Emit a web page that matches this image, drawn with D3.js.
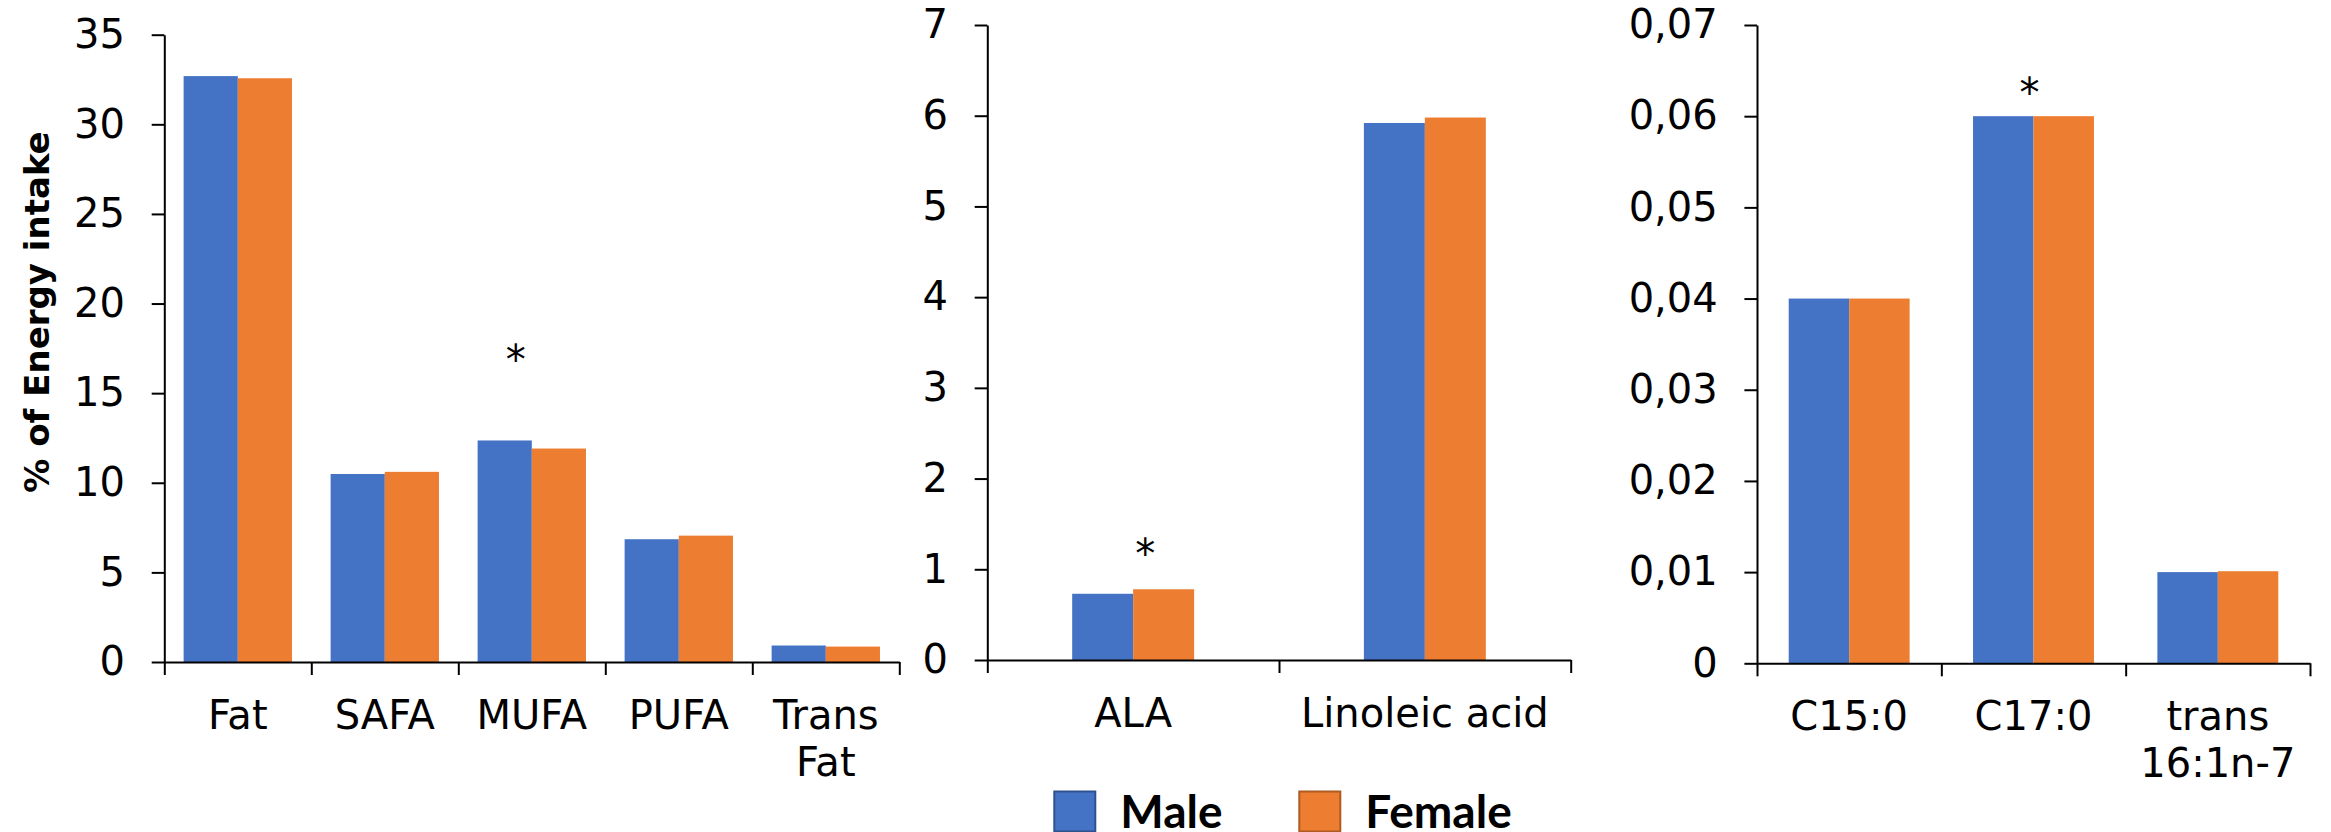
<!DOCTYPE html>
<html><head><meta charset="utf-8">
<script src="https://cdn.jsdelivr.net/npm/d3@7"></script>
<style>body{margin:0;background:#fff}svg{display:block}</style>
</head><body><svg id="c" width="2331" height="832"></svg>
<script>
// ---------- data ----------
const seriesNames = ["Male", "Female"];

const fatCategories = ["Fat", "SAFA", "MUFA", "PUFA", "Trans\nFat"];
const fatMale = [32.69, 10.49, 12.36, 6.85, 0.92];
const fatFemale = [32.57, 10.61, 11.91, 7.05, 0.86];
const fatTicks = [0, 5, 10, 15, 20, 25, 30, 35];
const fatTickLabels = ["0", "5", "10", "15", "20", "25", "30", "35"];

const pufaCategories = ["ALA", "Linoleic acid"];
const pufaMale = [0.73, 5.92];
const pufaFemale = [0.78, 5.98];
const pufaTicks = [0, 1, 2, 3, 4, 5, 6, 7];
const pufaTickLabels = ["0", "1", "2", "3", "4", "5", "6", "7"];

const minorCategories = ["C15:0", "C17:0", "trans\n16:1n-7"];
const minorMale = [0.040, 0.060, 0.0100];
const minorFemale = [0.040, 0.060, 0.0101];
const minorTicks = [0, 0.01, 0.02, 0.03, 0.04, 0.05, 0.06, 0.07];
const minorTickLabels = ["0", "0,01", "0,02", "0,03", "0,04", "0,05", "0,06", "0,07"];

const significanceCategories = ["MUFA", "ALA", "C17:0"];
const significanceLevels = [17.4, 1.28, 0.0636];

const yTitle = "% of Energy intake";

// ---------- layout ----------
const colors = ["#4472C4", "#ED7D31"];
const strokes = ["#2F528F", "#AE5A21"];
const FONT = "'DejaVu Sans', Verdana, sans-serif";
const FS = 40;

const panels = [
  {cats: fatCategories, male: fatMale, female: fatFemale, ticks: fatTicks, labels: fatTickLabels,
   x0: 164.3, x1: 899.3, yb: 662, yt: 34.7, frac: 0.737, max: 35, starDx: -16},
  {cats: pufaCategories, male: pufaMale, female: pufaFemale, ticks: pufaTicks, labels: pufaTickLabels,
   x0: 987.3, x1: 1570.7, yb: 660, yt: 25, frac: 0.418, max: 7, starDx: 12},
  {cats: minorCategories, male: minorMale, female: minorFemale, ticks: minorTicks, labels: minorTickLabels,
   x0: 1757, x1: 2310, yb: 663.3, yt: 25, frac: 0.656, max: 0.07, starDx: -4}
];

const svg = d3.select("#c");

panels.forEach((p, pi) => {
  const g = svg.append("g");
  const x = d3.scaleBand().domain(p.cats).range([p.x0, p.x1]).padding(0);
  const y = d3.scaleLinear().domain([0, p.max]).range([p.yb, p.yt]);
  const bw = x.bandwidth();
  const gw = bw * p.frac;
  const sub = d3.scaleBand().domain(seriesNames).range([0, gw]).padding(0);

  // bars
  const rows = p.cats.map((c, i) => ({c, vals: [p.male[i], p.female[i]]}));
  const grp = g.selectAll("g.cat").data(rows).join("g")
    .attr("transform", d => `translate(${x(d.c) + (bw - gw) / 2},0)`);
  grp.selectAll("rect").data(d => d.vals.map((v, k) => ({k, v}))).join("rect")
    .attr("x", d => sub(seriesNames[d.k]))
    .attr("width", sub.bandwidth())
    .attr("y", d => y(d.v))
    .attr("height", d => y(0) - y(d.v))
    .attr("fill", d => colors[d.k]);

  // y axis
  const yAxis = d3.axisLeft(y).tickValues(p.ticks)
    .tickFormat((d, i) => p.labels[i]).tickSize(12.6).tickSizeOuter(0).tickPadding(26.7);
  const ya = g.append("g").attr("transform", `translate(${p.x0},0)`).call(yAxis);
  ya.selectAll("path,line").attr("stroke", "#000").attr("stroke-width", 2);
  ya.selectAll("text").attr("font-family", FONT).attr("font-size", FS).attr("fill", "#000");

  // x axis (boundary ticks)
  const xb = d3.scaleLinear().domain([0, p.cats.length]).range([p.x0, p.x1]);
  const xAxis = d3.axisBottom(xb).tickValues(d3.range(p.cats.length + 1))
    .tickFormat("").tickSize(13).tickSizeOuter(0);
  const xa = g.append("g").attr("transform", `translate(0,${p.yb})`).call(xAxis);
  xa.selectAll("path,line").attr("stroke", "#000").attr("stroke-width", 2);

  // category labels
  const lab = g.selectAll("text.cl").data(p.cats).join("text").attr("class", "cl")
    .attr("font-family", FONT).attr("font-size", FS).attr("fill", "#000")
    .attr("text-anchor", "middle");
  lab.each(function(d) {
    const t = d3.select(this);
    d.split("\n").forEach((line, li) => {
      t.append("tspan").attr("x", x(d) + bw / 2).attr("y", p.yb + 67 + li * 47).text(line);
    });
  });

  // significance stars
  significanceCategories.forEach((c, si) => {
    if (p.cats.includes(c)) {
      g.append("text").attr("x", x(c) + bw / 2 + p.starDx).attr("y", y(significanceLevels[si]) + 24)
        .attr("text-anchor", "middle").attr("font-family", FONT).attr("font-size", FS)
        .attr("fill", "#000").text("*");
    }
  });
});

// y title
svg.append("text")
  .attr("transform", "translate(49,312) rotate(-90)")
  .attr("text-anchor", "middle")
  .attr("font-family", FONT).attr("font-weight", "bold").attr("font-size", 34)
  .attr("fill", "#000").text(yTitle);

// legend
const legX = [1053.3, 1298.3];
const leg = svg.append("g");
seriesNames.forEach((s, i) => {
  leg.append("rect").attr("x", legX[i] + 1).attr("y", 791.5).attr("width", 41).attr("height", 40)
    .attr("fill", colors[i]).attr("stroke", strokes[i]).attr("stroke-width", 2);
  leg.append("text").attr("x", legX[i] + 67).attr("y", 828)
    .attr("font-family", "Lato, 'Open Sans', sans-serif").attr("font-weight", "bold")
    .attr("font-size", 46).attr("fill", "#000").text(s);
});
</script></body></html>
